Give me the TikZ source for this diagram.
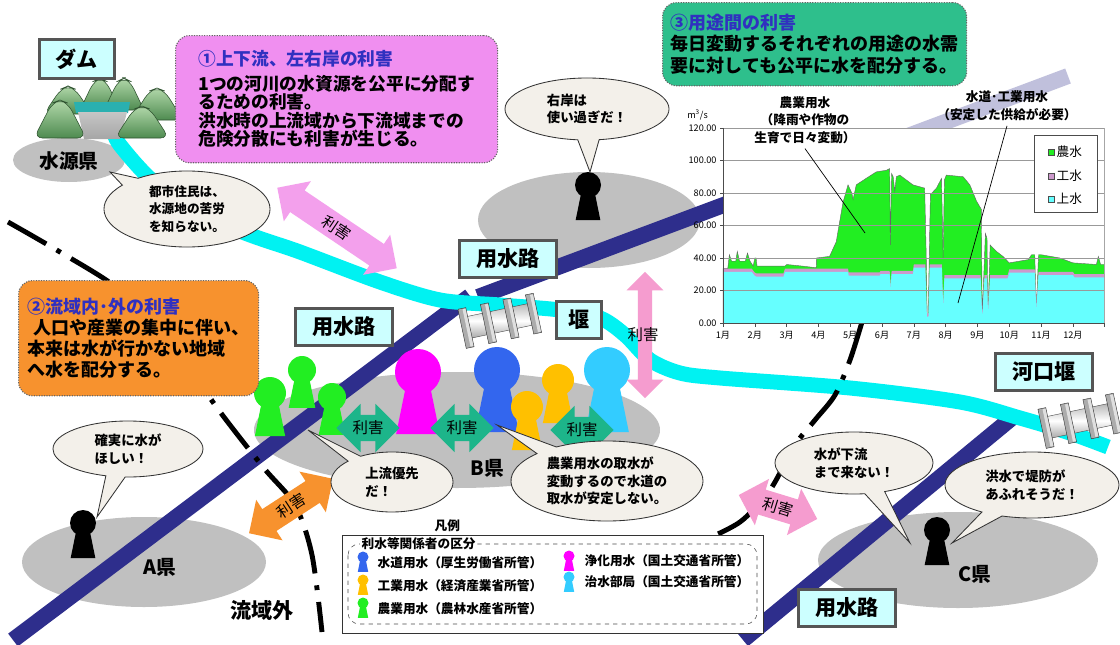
\documentclass[tikz,border=0pt]{standalone}
\usepackage{fontspec}
\setmainfont{Noto Sans CJK JP}
\usepackage{tikz}
\usetikzlibrary{shapes.arrows, shapes.callouts, positioning}

\definecolor{RegionGray}{HTML}{C0C0C0}
\definecolor{CanalNavy}{HTML}{2E2E8C}
\definecolor{RiverCyan}{HTML}{00F2F2}
\definecolor{LabelFill}{HTML}{CCFFFF}
\definecolor{LabelEdge}{HTML}{555555}
\definecolor{BubbleFill}{HTML}{F3F0EA}
\definecolor{NotePink}{HTML}{F08FF0}
\definecolor{NoteGreen}{HTML}{2EBF8C}
\definecolor{NoteOrange}{HTML}{F7922E}
\definecolor{TitleBlue}{HTML}{3030C0}
\definecolor{VioletArrow}{HTML}{F3A0EC}
\definecolor{PinkArrow}{HTML}{F59CCF}
\definecolor{TealArrow}{HTML}{1DB58A}
\definecolor{OrangeArrow}{HTML}{F7922E}
\definecolor{FarmGreen}{HTML}{22EE22}
\definecolor{CityBlue}{HTML}{3366EE}
\definecolor{FactoryYellow}{HTML}{FFC000}
\definecolor{CleanMagenta}{HTML}{FF00FF}
\definecolor{FloodBlue}{HTML}{33CCFF}
\definecolor{ChartCyan}{HTML}{66FFFF}
\definecolor{ChartPurple}{HTML}{CC99CC}
\definecolor{HillTop}{HTML}{B2D8AA}
\definecolor{HillFoot}{HTML}{4E8B50}
\definecolor{LakeTeal}{HTML}{2AB0B0}

\tikzstyle{labelbox} = [rectangle, draw=LabelEdge, line width=2pt, fill=LabelFill, font=\fontsize{15}{15}\selectfont\bfseries, inner xsep=0.42cm, inner ysep=0.22cm]
\tikzstyle{notebox} = [rectangle, rounded corners=10pt, draw=black!60, densely dotted, line width=0.8pt, anchor=north west, align=left, inner sep=0pt]
\tikzstyle{bubble} = [ellipse callout, draw=black!80, fill=BubbleFill, line width=0.6pt, align=left, inner sep=0pt, font=\fontsize{9.5}{12.5}\selectfont\bfseries]
\tikzstyle{conflict} = [double arrow, double arrow head extend=0.28cm, inner xsep=2pt, inner ysep=0.14cm, font=\fontsize{11}{11}\selectfont, text=black]
\tikzstyle{canal} = [CanalNavy, line width=0.4cm]
\tikzstyle{boundary} = [line width=3.5pt, dash pattern=on 1.1cm off 0.3cm on 0.12cm off 0.3cm]
\tikzstyle{prefname} = [font=\fontsize{14}{14}\selectfont\bfseries]
\tikzstyle{keytext} = [anchor=west, inner sep=1pt, font=\fontsize{9}{9}\selectfont\bfseries]
\newcommand{\chartfont}{\fontsize{6.5}{7}\selectfont}

% keyhole figure: x, y of the head, head radius, colour
\newcommand{\keyperson}[4]{\fill[#4] (#1,#2) circle (#3) (#1-0.4*#3,#2) -- (#1+0.4*#3,#2) -- (#1+0.95*#3,#2+2.7*#3) -- (#1-0.95*#3,#2+2.7*#3) -- cycle;}
% one hill of the dam site: peak x, peak y, half width, foot y
\newcommand{\hill}[4]{\shade[top color=HillTop, bottom color=HillFoot, draw=HillFoot!60!black, line width=0.4pt, rounded corners=6pt] (#1-#3,#4) -- (#1-0.3*#3,#2+3) -- (#1,#2) -- (#1+0.3*#3,#2+3) -- (#1+#3,#4) -- cycle;}
% weir with four gates
\newcommand{\weir}[2]{\begin{scope}[shift={(#1,#2)}, rotate=12]
  \shade[top color=gray!60, bottom color=gray!70, middle color=white, draw=black!70, line width=0.3pt] (0,-11) rectangle (70,11);
  \foreach \s in {0,23,46,69} {
    \filldraw[fill=gray!65, draw=black!80, line width=0.3pt] (\s-4,-20) rectangle (\s+4,20);
    \fill[gray!25] (\s+0.5,-19) rectangle (\s+3.5,19);
  }
\end{scope}}
% daily intake, agriculture on top
\newcommand{\farmarea}[1]{\filldraw[#1] (0,0) -- (0,33.5) -- (0.15,33.5) -- (0.2,42) -- (0.27,38) -- (0.4,38) -- (0.45,44) -- (0.52,38) -- (0.7,38) -- (0.77,43) -- (0.85,38) -- (0.95,35) -- (1.0,40) -- (1.04,40) -- (1.07,35) -- (1.95,35) -- (2.0,36) -- (2.5,35) -- (2.93,34) -- (2.94,40) -- (3.35,41) -- (3.56,50) -- (3.77,74) -- (3.93,85) -- (4.05,80) -- (4.09,76) -- (4.19,85) -- (4.5,89) -- (4.82,93) -- (5.14,94) -- (5.24,95) -- (5.26,48) -- (5.3,92) -- (5.35,90) -- (5.4,81) -- (5.45,90) -- (5.56,91) -- (5.97,85) -- (6.34,83) -- (6.39,40) -- (6.42,4) -- (6.45,4) -- (6.52,79) -- (6.71,83) -- (6.87,89) -- (6.92,40) -- (6.96,88) -- (7.02,91) -- (7.55,90) -- (7.76,85) -- (7.97,75) -- (8.12,70) -- (8.15,3) -- (8.2,30) -- (8.25,55) -- (8.3,52) -- (8.33,6) -- (8.4,48) -- (8.6,44) -- (8.8,41) -- (9.0,37) -- (9.6,39) -- (9.7,42) -- (9.8,42) -- (9.85,8) -- (9.92,42) -- (10.0,42) -- (10.59,40) -- (11.0,37) -- (11.74,36) -- (11.8,41) -- (11.87,36) -- (12,36) -- (12,0) -- cycle;}
% daily intake, city water
\newcommand{\cityarea}[1]{\fill[#1] (0,0) -- (0,31.5) -- (0.9,31.5) -- (1.0,29) -- (1.05,28.5) -- (1.9,28.5) -- (1.95,31.5) -- (3.93,31.5) -- (3.95,29.2) -- (4.93,29.2) -- (4.95,30) -- (5.24,30) -- (5.27,21) -- (5.3,30) -- (5.97,30) -- (6.0,34) -- (6.36,34) -- (6.41,4) -- (6.46,4) -- (6.5,34) -- (6.88,34) -- (6.92,10) -- (6.96,27.5) -- (8.1,27.5) -- (8.15,3) -- (8.22,27.5) -- (8.3,27.5) -- (8.33,6) -- (8.4,27.5) -- (8.95,27.5) -- (9.0,31) -- (9.8,31) -- (9.85,8) -- (9.92,29.5) -- (11.0,29.5) -- (11.05,28) -- (12,28) -- (12,0) -- cycle;}

\begin{document}
\begin{tikzpicture}[x=0.025cm, y=-0.025cm]
  \useasboundingbox (0,0) rectangle (1120,645);
  \fill[white] (0,0) rectangle (1120,645);

  % prefectures
  \fill[RegionGray] (69,160) ellipse (56 and 22);
  \fill[RegionGray] (589,220) ellipse (111 and 48);
  \fill[RegionGray] (457,430) ellipse (203 and 58);
  \fill[RegionGray] (144,562) ellipse (122 and 45);
  \fill[RegionGray] (958,560) ellipse (140 and 48);

  % canals
  \draw[canal] (13,640) -- (470,296);
  \draw[canal] (478,297) -- (1068,76);
  \draw[canal] (743,640) -- (1013,417);
  \fill[white, opacity=0.7] (880,58) rectangle (1118,128);

  % river
  \draw[RiverCyan, line width=0.375cm] plot[smooth] coordinates {(113,128) (120,145) (160,187) (233,228) (300,252) (380,282) (440,300) (500,305) (560,310) (600,318) (625,335) (650,360) (680,373) (720,378) (850,388) (960,402) (1020,418) (1070,433) (1108,447)};

  % basin boundaries
  \draw[boundary] plot[smooth] coordinates {(8,222) (60,252) (120,290) (175,345) (215,405) (263,467) (295,505) (312,555) (322,632)};
  \draw[boundary] plot[smooth] coordinates {(862,322) (850,360) (835,395) (815,420) (795,445) (770,490) (740,522) (700,542)};

  % dam site
  \hill{68}{86}{24}{114}
  \hill{100}{78}{20}{110}
  \hill{124}{78}{20}{110}
  \hill{157}{88}{26}{120}
  \fill[LakeTeal] (74,102) -- (130,102) -- (128,113) -- (76,113) -- cycle;
  \shade[top color=gray!45, bottom color=gray!70] (78,112) -- (127,112) -- (120,139) -- (84,139) -- cycle;
  \hill{60}{100}{26}{138}
  \hill{142}{106}{27}{138}

  \weir{466}{328}
  \weir{1046}{428}

  % water users
  \keyperson{588}{185}{13}{black}
  \keyperson{83}{523}{13}{black}
  \keyperson{937}{530}{13}{black}
  \keyperson{270}{393}{16}{FarmGreen}
  \keyperson{302}{370}{14}{FarmGreen}
  \keyperson{332}{397}{14}{FarmGreen}
  \keyperson{418}{372}{23}{CleanMagenta}
  \keyperson{497}{370}{23}{CityBlue}
  \keyperson{558}{380}{16}{FactoryYellow}
  \keyperson{527}{407}{16}{FactoryYellow}
  \keyperson{607}{370}{23}{FloodBlue}

  % labels
  \node[labelbox] (damlabel) at (77,59) {ダム};
  \node[labelbox] (canalTop) at (508,259) {用水路};
  \node[labelbox] (canalMid) at (344,327) {用水路};
  \node[labelbox, inner xsep=0.3cm] (weirlabel) at (579,320) {堰};
  \node[labelbox] (estuarylabel) at (1044,372) {河口堰};
  \node[labelbox] (canalLow) at (847,608) {用水路};
  \node[prefname] (prefSource) at (69,161) {水源県};
  \node[prefname] (prefA) at (160,567) {A県};
  \node[prefname] (prefB) at (487,468) {B県};
  \node[prefname] (prefC) at (975,574) {C県};
  \node[font=\fontsize{15}{15}\selectfont\bfseries] (outside) at (262,610) {流域外};

  % conflicts
  \node[conflict, fill=VioletArrow, rotate=-34, minimum height=3.6cm] (gainBank) at (337,228) {利害};
  \node[conflict, fill=PinkArrow, rotate=90, minimum height=3.15cm, inner ysep=0.17cm] (gainWeir) at (645,335) {};
  \node[font=\fontsize{11}{11}\selectfont] (gainWeirText) at (643,335) {利害};
  \node[conflict, fill=TealArrow, minimum height=1.45cm] (gainFarm) at (368,428) {利害};
  \node[conflict, fill=TealArrow, minimum height=1.3cm] (gainClean) at (462,428) {利害};
  \node[conflict, fill=TealArrow, minimum height=1.3cm] (gainFlood) at (582,430) {利害};
  \node[conflict, fill=OrangeArrow, rotate=33, minimum height=2.5cm] (gainOut) at (291,506) {利害};
  \node[conflict, fill=PinkArrow, rotate=-17, minimum height=2.05cm] (gainDown) at (778,507) {利害};

  % voices
  \node[bubble, font=\fontsize{9}{12.5}\selectfont\bfseries, minimum width=4.15cm, minimum height=1.9cm, callout absolute pointer={(110,172)}] (voiceSource) at (187,209) {都市住民は、\\水源地の苦労\\を知らない。};
  \node[bubble, minimum width=4.1cm, minimum height=1.55cm, callout absolute pointer={(590,172)}] (voiceBank) at (587,109) {右岸は\\使い過ぎだ！};
  \node[bubble, minimum width=3.75cm, minimum height=1.4cm, callout absolute pointer={(97,517)}] (voiceA) at (128,449) {確実に水が\\ほしい！};
  \node[bubble, minimum width=3.05cm, minimum height=1.5cm, callout absolute pointer={(308,430)}] (voiceUp) at (392,482) {上流優先\\だ！};
  \node[bubble, minimum width=4.8cm, minimum height=2.0cm, callout absolute pointer={(497,425)}] (voiceCity) at (607,481) {農業用水の取水が\\変動するので水道の\\取水が安定しない。};
  \node[bubble, minimum width=3.95cm, minimum height=1.55cm, callout absolute pointer={(910,543)}] (voiceDown) at (854,463) {水が下流\\まで来ない！};
  \node[bubble, minimum width=4.35cm, minimum height=1.65cm, callout absolute pointer={(952,543)}] (voiceFlood) at (1032,485) {洪水で堤防が\\あふれそうだ！};

  % notes
  \node[notebox, fill=NotePink, minimum width=8.05cm, minimum height=3.18cm, font=\fontsize{12.6}{13.2}\selectfont\bfseries] (noteBank) at (175,35) {{\color{TitleBlue}①上下流、左右岸の利害}\\[4pt]1つの河川の水資源を公平に分配す\\るための利害。\\洪水時の上流域から下流域までの\\危険分散にも利害が生じる。};
  \node[notebox, fill=NoteGreen, minimum width=7.6cm, minimum height=2.08cm, font=\fontsize{12.8}{15.5}\selectfont\bfseries] (noteUse) at (662,2) {{\color{TitleBlue}③用途間の利害}\\毎日変動するそれぞれの用途の水需\\要に対しても公平に水を配分する。};
  \node[notebox, fill=NoteOrange, minimum width=6.0cm, minimum height=2.88cm, font=\fontsize{12.8}{15}\selectfont\bfseries] (noteBasin) at (18,280) {{\color{TitleBlue}②流域内･外の利害}\\\hspace{0.3em}人口や産業の集中に伴い、\\本来は水が行かない地域\\へ水を配分する。};

  % intake chart
  \begin{scope}[shift={(723,323)}, x=0.795cm, y=0.040625cm]
    \fill[white] (0,0) rectangle (12,120);
    \farmarea{fill=FarmGreen, draw=black!60, line width=0.3pt}
    \cityarea{ChartPurple, shift={(0,2)}}
    \cityarea{ChartCyan}
    \foreach \v in {20,40,...,120} \draw[gray!80, line width=0.4pt] (0,\v) -- (12,\v);
    \draw[gray!70] (12,0) -- (12,120);
    \draw[black!70, line width=0.4pt] (0,120) -- (0,0) -- (12,0);
    \foreach \v in {0,20,...,120} {
      \draw[black!70] (-0.08,\v) -- (0,\v);
      \node[anchor=east, inner sep=1pt, font=\chartfont] (tick\v) at (-0.15,\v) {\v.00};
    }
    \foreach \m in {0,...,12} \draw[black!70] (\m,0) -- (\m,-2.5);
    \foreach \m in {1,...,12} \node[font=\chartfont] (month\m) at (\m-1,-7.4) {\m 月};
    \node[font=\chartfont] (unit) at (-0.8,128) {m\textsuperscript{3}/s};
  \end{scope}
  \node[draw=black!70, fill=white, minimum width=1.575cm, minimum height=1.925cm, line width=0.5pt] (chartkey) at (1066,174) {};
  \foreach \c/\t/\yy in {FarmGreen/農水/152, ChartPurple/工水/176, ChartCyan/上水/199} {
    \filldraw[fill=\c, draw=black!70, line width=0.3pt] (1048,\yy-3) rectangle (1054,\yy+3);
    \node[anchor=west, inner sep=1pt, font=\fontsize{9}{9}\selectfont] (key\t) at (1055,\yy) {\t};
  }
  \node[align=center, font=\fontsize{9}{12.5}\selectfont\bfseries] (farmnote) at (805,120) {農業用水\\（降雨や作物の\\生育で日々変動）};
  \node[align=center, font=\fontsize{9}{12.5}\selectfont\bfseries] (citynote) at (1007,106) {水道･工業用水\\（安定した供給が必要）};
  \coordinate (farmpoint) at (865,233);
  \coordinate (citypoint) at (958,303);
  \draw[black, line width=0.5pt] (farmnote.south) -- (farmpoint);
  \draw[black, line width=0.5pt] (citynote.south) -- (citypoint);

  % legend
  \node[keytext] (keyhead) at (433,526) {凡例};
  \node[draw=black!80, fill=white, anchor=north west, minimum width=10.525cm, minimum height=2.45cm, line width=0.6pt] (keyframe) at (342,535) {};
  \draw[dashed, black!70, rounded corners=8pt] (348,544) rectangle (757,624);
  \node[keytext, fill=white] (keytitle) at (360,544) {利水等関係者の区分};
  \keyperson{363}{557}{5.5}{CityBlue}
  \keyperson{363}{580}{5.5}{FactoryYellow}
  \keyperson{363}{603}{5.5}{FarmGreen}
  \keyperson{569}{556}{5.5}{CleanMagenta}
  \keyperson{569}{577}{5.5}{FloodBlue}
  \node[keytext] (keyCity) at (376,563) {水道用水（厚生労働省所管）};
  \node[keytext] (keyFactory) at (376,586) {工業用水（経済産業省所管）};
  \node[keytext] (keyFarm) at (376,609) {農業用水（農林水産省所管）};
  \node[keytext] (keyClean) at (583,561) {浄化用水（国土交通省所管）};
  \node[keytext] (keyFlood) at (583,582) {治水部局（国土交通省所管）};
\end{tikzpicture}
\end{document}
